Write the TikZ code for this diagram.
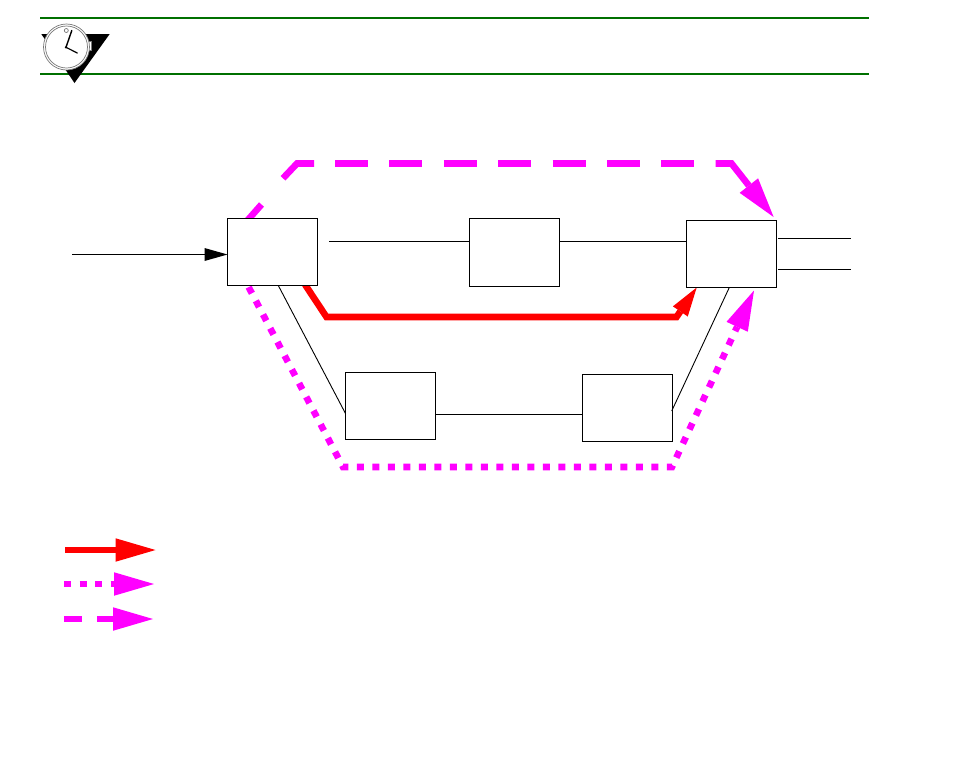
\documentclass[tikz,border=0pt]{standalone}
\usetikzlibrary{arrows.meta,backgrounds}
\definecolor{ruleGreen}{RGB}{0,112,0}
\definecolor{pathMagenta}{RGB}{255,0,255}
\definecolor{pathRed}{RGB}{255,0,0}
\definecolor{ringGrey}{RGB}{120,120,120}
\tikzset{
  box/.style={draw=black,line width=1pt,fill=white,inner sep=0pt,outer sep=0pt,minimum width=90pt},
  thinline/.style={draw=black,line width=1pt},
  greenrule/.style={draw=ruleGreen,line width=2pt},
  heavy/.style={line width=6.6pt,line cap=butt,miter limit=10},
  redpath/.style={heavy,draw=pathRed},
  magpath/.style={heavy,draw=pathMagenta},
  dotpat/.style={dash pattern=on 7pt off 8.5pt},
  bighead/.style={-{Triangle[length=40pt,width=23.5pt,line width=0pt]}},
  smallhead/.style={-{Triangle[length=29pt,width=18pt,line width=0pt]}},
  inhead/.style={-{Triangle[length=23pt,width=13pt,line width=0pt]}},
  ring/.style={draw=ringGrey,line width=0.7pt},
  hand/.style={draw=black,line cap=round}
}
\begin{document}
\begin{tikzpicture}[x=1pt,y=-1pt]
\useasboundingbox (0,0) rectangle (976,777);

% header rules
\coordinate (r1a) at (40,18); \coordinate (r1b) at (869,18);
\coordinate (r2a) at (40,74); \coordinate (r2b) at (869,74);
\draw[greenrule] (r1a) -- (r1b);
\draw[greenrule] (r2a) -- (r2b);

% clock badge
\fill[black] (41.3,34) -- (109.7,34) -- (74.5,83) -- cycle;
\filldraw[ring,fill=white] (87.5,41.5) rectangle (91,50.5);
\filldraw[ring,fill=white] (66.5,47) circle (23);
\draw[ring] (66.5,47) circle (21);
\draw[ring] (66.3,30.5) circle (2);
\draw[hand,line width=1.4pt] (66,47.3) -- (71.8,30.5);
\draw[hand,line width=1.2pt] (66,47.3) -- (77.3,53);
\fill[black] (66,47.3) circle (1.3);

% nodes
\coordinate (inStart) at (72,254.5);
\node[box,minimum height=67pt] (A) at (272.5,252) {};
\node[box,minimum height=68pt] (B) at (514.5,252.5) {};
\node[box,minimum height=67pt] (C) at (731.5,254) {};
\node[box,minimum height=67pt] (D) at (390.5,406) {};
\node[box,minimum height=67pt] (E) at (627.5,408) {};

% magenta and red paths, behind the boxes
\coordinate (dashA) at (261.5,204.5);
\coordinate (dashB) at (283,178.3);
\coordinate (dashC) at (297,163.5);
\coordinate (dashD) at (314,163.5);
\coordinate (dashE) at (335,163.5);
\coordinate (dashF) at (694,163.5);
\coordinate (dashG) at (715.5,163.5);
\coordinate (dashH) at (731.5,163.5);
\coordinate (dashTip) at (773.6,217);
\coordinate (dotA) at (343,467);
\coordinate (dotB) at (672,467);
\coordinate (dotTip) at (754,290.5);
\coordinate (redA) at (326.5,317);
\coordinate (redB) at (676.5,317);
\coordinate (redTip) at (696.7,287.5);
\begin{scope}[on background layer]
\fill[white] (0,0) rectangle (976,777);
\draw[magpath] ([xshift=19pt,yshift=-3pt]A.north west) -- (dashA);
\draw[magpath] (dashB) -- (dashC) -- (dashD);
\draw[magpath,dash pattern=on 33pt off 21.4pt] (dashE) -- (dashF);
\draw[magpath,bighead] (dashG) -- (dashH) -- (dashTip);
\draw[magpath,dotpat,dash phase=13.7pt,bighead]
  ([xshift=20.3pt]A.south west) -- (dotA) -- (dotB) -- (dotTip);
\draw[redpath,smallhead] ([xshift=77.5pt,yshift=1pt]A.south west) -- (redA) -- (redB) -- (redTip);
\end{scope}

% thin connectors
\coordinate (aFree) at (329,241);
\coordinate (deLine) at (500,414.3);
\coordinate (cOut1) at (778,238.5);
\coordinate (cOut1e) at (851,238.5);
\coordinate (cOut2) at (778,269);
\coordinate (cOut2e) at (851,269);
\draw[thinline,inhead] (inStart) -- (A.west |- inStart);
\draw[thinline] (aFree) -- (B.west |- aFree);
\draw[thinline] (B.east |- aFree) -- (C.west |- aFree);
\draw[thinline] (cOut1) -- (cOut1e);
\draw[thinline] (cOut2) -- (cOut2e);
\draw[thinline,line width=0.9pt] ([xshift=50.8pt]A.south west) -- ([yshift=-7.5pt]D.west);
\draw[thinline] (D.east |- deLine) -- (E.west |- deLine);
\draw[thinline,line width=0.9pt] ([yshift=-3pt,xshift=-0.8pt]E.east) -- ([xshift=42.8pt]C.south west);

% legend
\coordinate (lg1a) at (65,550); \coordinate (lg1b) at (155.5,550);
\coordinate (lg2a) at (64,584); \coordinate (lg2b) at (154,584);
\coordinate (lg3a) at (64,619); \coordinate (lg3b) at (153,619);
\draw[redpath,bighead] (lg1a) -- (lg1b);
\draw[magpath,dotpat,bighead] (lg2a) -- (lg2b);
\draw[magpath,dash pattern=on 18pt off 15pt,bighead] (lg3a) -- (lg3b);
\end{tikzpicture}
\end{document}
